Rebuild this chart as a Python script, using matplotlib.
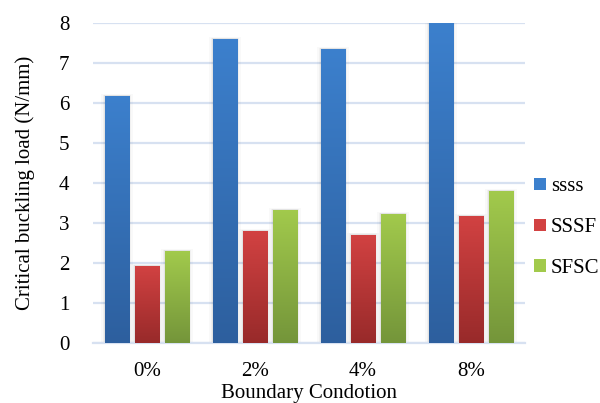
import numpy as np
import matplotlib.pyplot as plt
from matplotlib.colors import LinearSegmentedColormap
from matplotlib.patches import Rectangle

plt.rcParams['font.family'] = ['Liberation Serif', 'DejaVu Serif']

# ----------------------------------------------
# data
categories = ['0%', '2%', '4%', '8%']
series_names = ['ssss', 'SSSF', 'SFSC']
ssss = [6.18, 7.6, 7.35, 8.0]
sssf = [1.93, 2.8, 2.71, 3.18]
sfsc = [2.3, 3.33, 3.23, 3.8]

# (top colour, bottom colour) for the gradient fill
colors = [('#3c80cd', '#2d5f9e'),
          ('#d24242', '#982a2a'),
          ('#a2ca4c', '#74953a')]

fig = plt.figure(figsize=(6.0, 4.03), dpi=100)
ax = fig.add_axes([0.155, 0.149, 0.72, 0.794])

x = np.arange(len(categories))
width = 0.23
pitch = 0.278
grad = np.linspace(1, 0, 256).reshape(-1, 1)

def gradient_bar(ax, xc, h, top, bottom):
    x0 = xc - width / 2
    # faint shadow around the bar
    for k, a in [(0.03, 0.025), (0.018, 0.035), (0.008, 0.05)]:
        ax.add_patch(Rectangle((x0 - k, 0), width + 2 * k, h + k * 1.5,
                               facecolor='black', alpha=a, lw=0, zorder=2))
    cmap = LinearSegmentedColormap.from_list('g', [bottom, top])
    im = ax.imshow(grad, extent=[x0, x0 + width, 0, h], cmap=cmap,
                   aspect='auto', origin='upper', zorder=3)
    rect = Rectangle((x0, 0), width, h, facecolor='none', lw=0, zorder=3)
    ax.add_patch(rect)
    im.set_clip_path(rect)

for i, vals in enumerate([ssss, sssf, sfsc]):
    for j, v in enumerate(vals):
        gradient_bar(ax, x[j] + (i - 1) * pitch, v, *colors[i])

ax.set_xlim(-0.5, len(categories) - 0.5)
ax.set_ylim(0, 8)
ax.set_yticks(range(0, 9))
ax.set_xticks(x)
ax.set_xticklabels(categories)
ax.tick_params(axis='both', length=0, labelsize=15)
ax.tick_params(axis='x', pad=14)
ax.tick_params(axis='y', pad=17)
ax.grid(axis='y', color='#d7e1f1', lw=1.6, zorder=0)
ax.set_axisbelow(True)
for s in ['top', 'right', 'left']:
    ax.spines[s].set_visible(False)
ax.spines['bottom'].set_color('#d7e1f1')
ax.spines['bottom'].set_linewidth(1.6)

ax.set_ylabel('Critical buckling load (N/mm)', fontsize=15, labelpad=17)
ax.set_xlabel('Boundary Condotion', fontsize=15, labelpad=2)

# legend, to the right of the plot
handles = [Rectangle((0, 0), 1, 1, facecolor=c[0], edgecolor='none') for c in colors]
ax.legend(handles, series_names, loc='center left', bbox_to_anchor=(1.012, 0.36),
          borderaxespad=0, frameon=False, fontsize=15, handlelength=0.55,
          handleheight=0.55, handletextpad=0.25, labelspacing=1.05, borderpad=0.2)

fig.savefig('out.png', dpi=100)
